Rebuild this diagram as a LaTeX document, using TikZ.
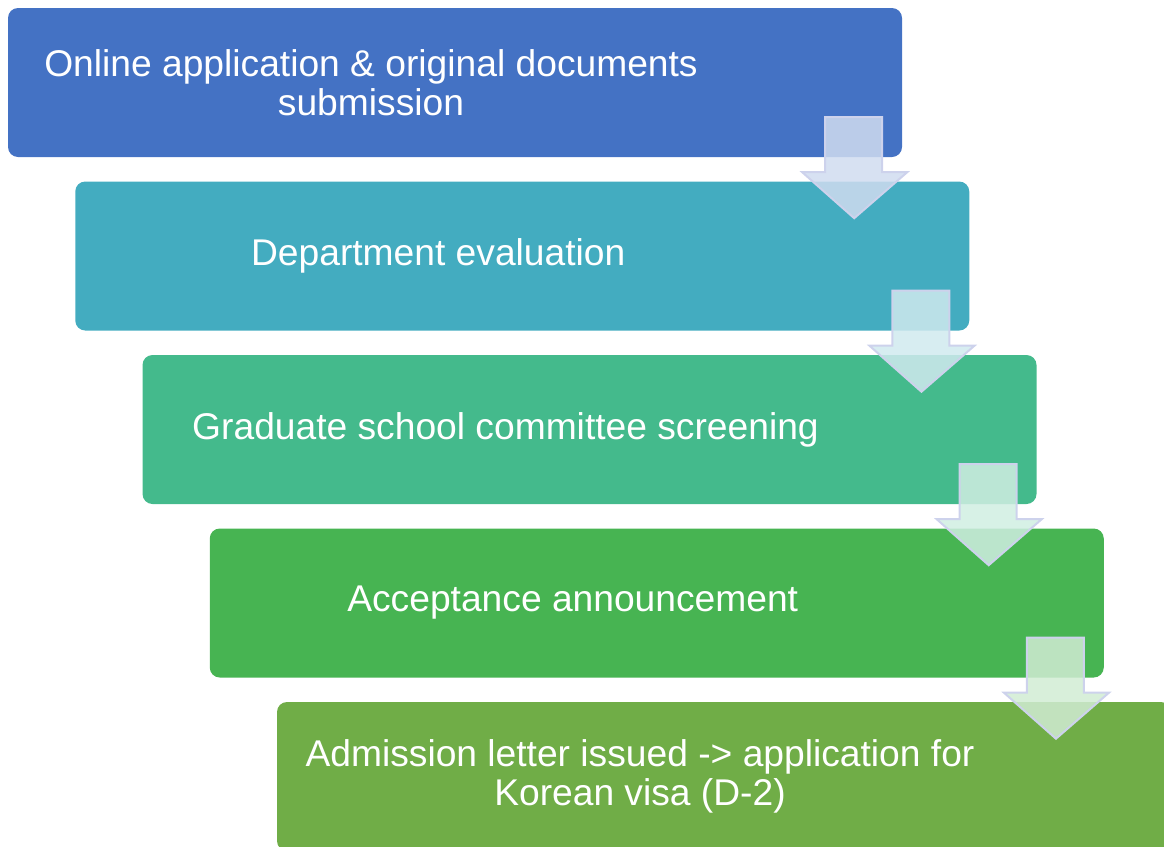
\documentclass[tikz,border=0pt]{standalone}
\usepackage{fontspec}
\setmainfont{Liberation Sans}
\usetikzlibrary{calc}
\definecolor{stepA}{HTML}{4472C4}
\definecolor{stepB}{HTML}{43ACC0}
\definecolor{stepC}{HTML}{44BA8C}
\definecolor{stepD}{HTML}{47B452}
\definecolor{stepE}{HTML}{70AD47}
\definecolor{arrowline}{HTML}{CDD2EC}
\tikzset{
 stepbox/.style={rectangle, rounded corners=10pt, minimum width=894pt, minimum height=149pt, inner sep=0pt},
 steptext/.style={text=white, align=center, font=\fontsize{37.2}{39}\selectfont},
 downarrow/.style={draw=arrowline, line width=2pt, line join=miter, fill opacity=.85}
}
\begin{document}
\begin{tikzpicture}[x=1pt, y=-1pt]
\clip (0,0) rectangle (1164,846);
\foreach \i/\col/\txt in {1/stepA/{Online application \& original documents\\submission},
 2/stepB/{Department evaluation},
 3/stepC/{Graduate school committee screening},
 4/stepD/{Acceptance announcement},
 5/stepE/{Admission letter issued -> application for\\Korean visa (D-2)}} {
 \node[stepbox, fill=\col] (box\i) at (455+67.25*\i-67.25, 82.5+173.5*\i-173.5) {};
 \node[steptext] (txt\i) at ($(box\i.center)+(-84,0)$) {\txt};
}
\foreach \i/\col in {1/stepA, 2/stepB, 3/stepC, 4/stepD} {
 \draw[downarrow, fill=\col!25!white] ($(box\i.south east)+(-77,-40)$) -- ++(57,0) -- ++(0,55) -- ++(25,0)
  -- ++(-53,46) -- ++(-52,-46) -- ++(23,0) -- cycle;
}
\end{tikzpicture}
\end{document}
